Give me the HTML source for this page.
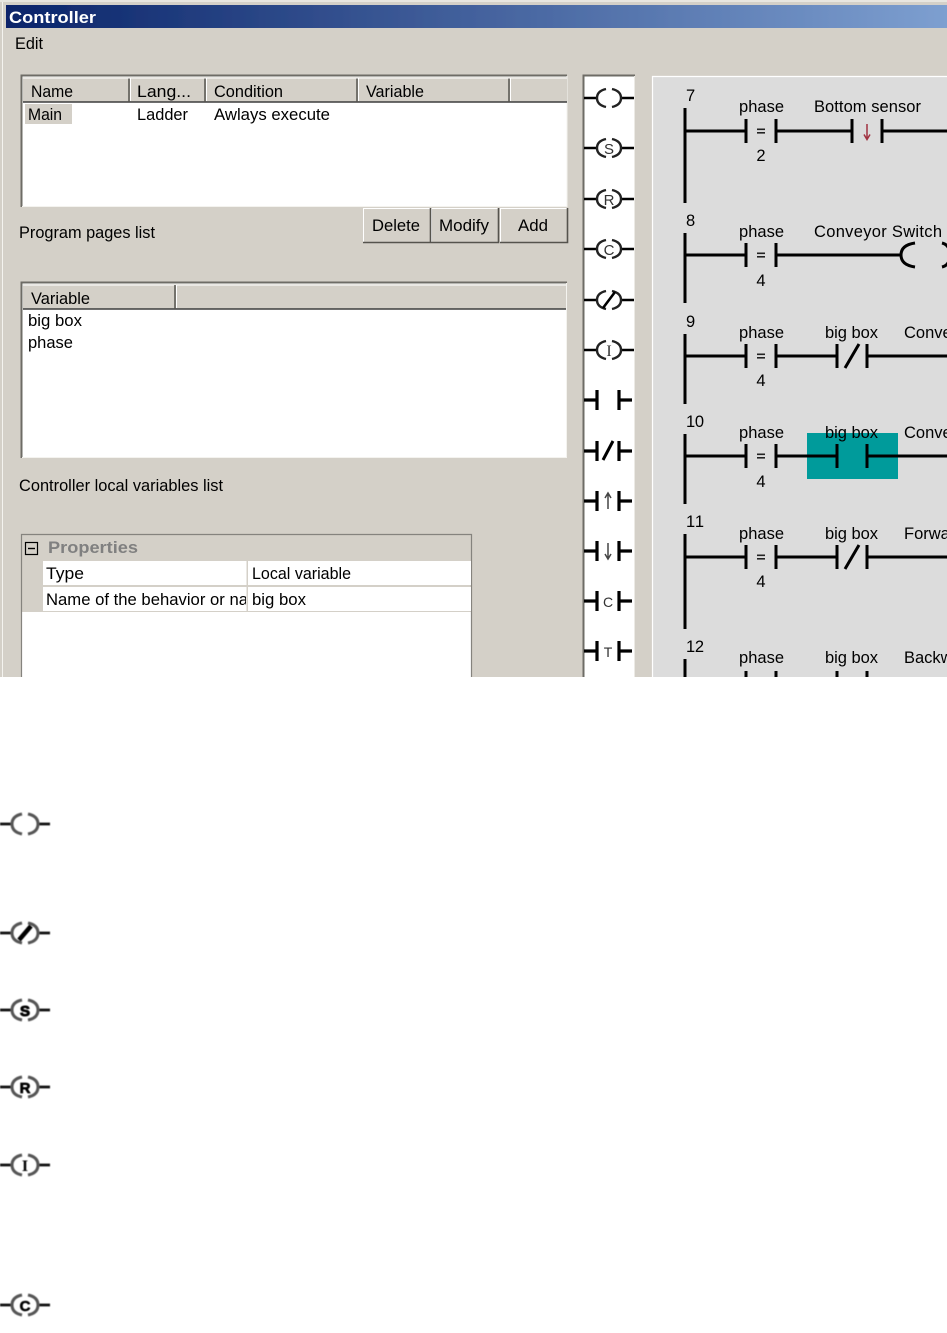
<!DOCTYPE html>
<html><head><meta charset="utf-8"><style>
html,body{margin:0;padding:0;background:#fff}
svg{display:block}
text{font-family:"Liberation Sans",sans-serif;font-size:16.5px;fill:#000}
.c{text-anchor:middle}
</style></head><body>
<svg width="947" height="1333" viewBox="0 0 947 1333" xmlns="http://www.w3.org/2000/svg">
<defs>
<linearGradient id="tb" x1="0" x2="1" y1="0" y2="0"><stop offset="0" stop-color="#0a246a"/><stop offset="1" stop-color="#7d9fd0"/></linearGradient>
<filter id="b" x="-2%" y="-2%" width="104%" height="104%"><feGaussianBlur stdDeviation="0.35"/></filter>
<filter id="b2" x="-10%" y="-10%" width="120%" height="120%"><feGaussianBlur stdDeviation="0.6"/></filter>
<g id="coil" fill="none" stroke="#000" stroke-width="2.6"><path d="M-25 0H-12M12 0H25"/><path d="M-3 -9Q-12 -7 -12 0Q-12 7 -3 9M3 -9Q12 -7 12 0Q12 7 3 9" stroke-width="2.4" stroke="#222"/></g>
<g id="coilb" fill="none" stroke="#111" stroke-width="2.8"><path d="M-25 0H-12M12 0H25"/><path d="M-3 -10Q-13 -8 -13 0Q-13 8 -3 10M3 -10Q13 -8 13 0Q13 8 3 10" stroke-width="3" stroke="#555"/></g>
<g id="cont" stroke="#000" stroke-width="3.2" fill="none"><path d="M-24 0H-11M-11 -10V10M11 -10V10M11 0H24"/></g>
<path id="bar" d="M0 -12V12" stroke="#000" stroke-width="3" fill="none"/>
<path id="sl" d="M-7 12L7 -12" stroke="#000" stroke-width="3" fill="none"/>
<clipPath id="namec"><rect x="43" y="586" width="203" height="26"/></clipPath>
</defs>
<g filter="url(#b)">
<rect width="947" height="677" fill="#d4d0c8"/>
<rect x="0" y="0" width="947" height="2" fill="#e8e6e0"/>
<rect x="2" y="2" width="1" height="675" fill="#f4f3ef"/>
<rect x="6" y="5" width="941" height="23" fill="url(#tb)"/>
<text x="9" y="23" textLength="87" lengthAdjust="spacingAndGlyphs" style="fill:#fff;font-weight:bold">Controller</text>
<text x="15" y="49" textLength="28" lengthAdjust="spacingAndGlyphs">Edit</text>

<!-- table 1 -->
<rect x="21" y="75" width="546" height="132" fill="#fff"/>
<path d="M21.5 207V75.5H567" fill="none" stroke="#6e6c66" stroke-width="2"/>
<path d="M22 206.500H567V76" fill="none" stroke="#f4f3ef"/>
<rect x="23" y="77" width="544" height="25" fill="#d4d0c8"/>
<path d="M23 102H567" stroke="#3c3c3c" stroke-width="1.6"/>
<path d="M129 78V102M205 78V102M357 78V102M509 78V102" stroke="#55534e" stroke-width="1.5"/>
<path d="M130.5 78V101M206.5 78V101M358.5 78V101M510.5 78V101" stroke="#fff" stroke-width="1"/>
<path d="M23 78H567" stroke="#fff" stroke-width="1"/>
<text x="31" y="97" textLength="42" lengthAdjust="spacingAndGlyphs">Name</text>
<text x="137" y="97" textLength="54" lengthAdjust="spacingAndGlyphs">Lang...</text>
<text x="214" y="97" textLength="69" lengthAdjust="spacingAndGlyphs">Condition</text>
<text x="366" y="97" textLength="58" lengthAdjust="spacingAndGlyphs">Variable</text>
<rect x="25" y="104" width="47" height="20" fill="#d4d0c8"/>
<text x="28" y="120" textLength="34" lengthAdjust="spacingAndGlyphs">Main</text>
<text x="137" y="120" textLength="51" lengthAdjust="spacingAndGlyphs">Ladder</text>
<text x="214" y="120" textLength="116" lengthAdjust="spacingAndGlyphs">Awlays execute</text>

<!-- buttons -->
<g fill="#d4d0c8" stroke="none">
<rect x="363" y="208" width="67" height="35"/><rect x="431" y="208" width="68" height="35"/><rect x="500" y="208" width="68" height="35"/>
</g>
<path d="M363.5 242V208.5H430M431.5 242V208.5H498M500.5 242V208.5H567" fill="none" stroke="#fff"/>
<path d="M363 242.500H430.500V208M431 242.500H498.500V208M500 242.500H567.500V208" fill="none" stroke="#55534e" stroke-width="1.6"/>
<text x="372" y="231" textLength="48" lengthAdjust="spacingAndGlyphs">Delete</text>
<text x="439" y="231" textLength="50" lengthAdjust="spacingAndGlyphs">Modify</text>
<text x="518" y="231" textLength="30" lengthAdjust="spacingAndGlyphs">Add</text>
<text x="19" y="238" textLength="136" lengthAdjust="spacingAndGlyphs">Program pages list</text>

<!-- table 2 -->
<rect x="21" y="282" width="546" height="176" fill="#fff"/>
<path d="M21.500 458V282.500H567" fill="none" stroke="#6e6c66" stroke-width="2"/>
<path d="M22 457.500H566.500V283" fill="none" stroke="#f4f3ef"/>
<rect x="23" y="284" width="543" height="25" fill="#d4d0c8"/>
<path d="M23 285H566" stroke="#fff"/>
<path d="M23 309H566" stroke="#3c3c3c" stroke-width="1.6"/>
<path d="M175 285V309" stroke="#55534e" stroke-width="1.5"/>
<path d="M176.500 285V308" stroke="#fff"/>
<text x="31" y="304" textLength="59" lengthAdjust="spacingAndGlyphs">Variable</text>
<text x="28" y="326" textLength="54" lengthAdjust="spacingAndGlyphs">big box</text>
<text x="28" y="348" textLength="45" lengthAdjust="spacingAndGlyphs">phase</text>
<text x="19" y="491" textLength="204" lengthAdjust="spacingAndGlyphs">Controller local variables list</text>

<!-- properties -->
<rect x="21" y="534" width="451" height="143" fill="#fff"/>
<rect x="22" y="535" width="449" height="77" fill="#d4d0c8"/>
<path d="M21.500 677V534.500H471.500V677" fill="none" stroke="#85837e" stroke-width="1.2"/>
<rect x="25.500" y="542.500" width="12" height="12" fill="none" stroke="#000" stroke-width="1.2"/>
<path d="M28 548.500H35" stroke="#000" stroke-width="1.4"/>
<text x="48" y="553" textLength="90" lengthAdjust="spacingAndGlyphs" style="fill:#808080;font-weight:bold">Properties</text>
<rect x="43" y="561" width="428" height="24" fill="#fff"/>
<rect x="43" y="587" width="428" height="24" fill="#fff"/>
<rect x="246.500" y="561" width="1.500" height="51" fill="#d4d0c8"/>
<text x="46" y="579" textLength="38" lengthAdjust="spacingAndGlyphs">Type</text>
<text x="252" y="579" textLength="99" lengthAdjust="spacingAndGlyphs">Local variable</text>
<g clip-path="url(#namec)"><text x="46" y="605" textLength="202" lengthAdjust="spacingAndGlyphs">Name of the behavior or na</text></g>
<text x="252" y="605" textLength="54" lengthAdjust="spacingAndGlyphs">big box</text>

<!-- toolbar -->
<rect x="583" y="75" width="52" height="602" fill="#fff"/>
<path d="M583.500 677V75.500H635" fill="none" stroke="#6e6c66" stroke-width="2"/>
<path d="M634.500 76V677" stroke="#eceae5"/>
<use href="#coil" x="609" y="98"/>
<use href="#coil" x="609" y="148"/><text class="c" x="609" y="154" style="font-size:15px;fill:#333">S</text>
<use href="#coil" x="609" y="199"/><text class="c" x="609" y="205" style="font-size:15px;fill:#333">R</text>
<use href="#coil" x="609" y="249"/><text class="c" x="609" y="255" style="font-size:15px;fill:#333">C</text>
<use href="#coil" x="609" y="300"/><path d="M603 308L615 292" stroke="#000" stroke-width="2.6"/>
<use href="#coil" x="609" y="350"/><text class="c" x="609" y="356" style="font-size:16px;fill:#333;font-family:'Liberation Serif',serif">I</text>
<use href="#cont" x="608" y="400"/>
<use href="#cont" x="608" y="451"/><path d="M603 460L613 441" stroke="#000" stroke-width="3"/>
<use href="#cont" x="608" y="501"/><path d="M608 509V494M605 498L608 493L611 498" fill="none" stroke="#444" stroke-width="1.500"/>
<use href="#cont" x="608" y="551"/><path d="M608 543V558M605 554L608 559L611 554" fill="none" stroke="#444" stroke-width="1.500"/>
<use href="#cont" x="608" y="601"/><text class="c" x="608" y="607" style="font-size:14px;fill:#333">C</text>
<use href="#cont" x="608" y="651"/><text class="c" x="608" y="657" style="font-size:14px;fill:#333">T</text>

<!-- diagram -->
<rect x="652" y="76" width="295" height="601" fill="#dcdcdc"/>
<path d="M652.500 677V76.500H947" fill="none" stroke="#fff" stroke-width="1.200"/>

<path d="M685 108V203M685 233V303M685 334V404M685 434V504M685 534V629M685 659V677" stroke="#000" stroke-width="3" fill="none"/>
<text x="686" y="101">7</text><text x="686" y="226">8</text><text x="686" y="327">9</text><text x="686" y="427" textLength="18">10</text><text x="686" y="527" textLength="18">11</text><text x="686" y="652" textLength="18">12</text>

<rect x="807" y="433" width="91" height="46" fill="#009b9b"/>

<g fill="none" stroke="#000" stroke-width="3">
<path d="M685 131H746M776 131H852M882 131H947"/>
<path d="M685 255H746M776 255H901"/>
<path d="M685 356H746M776 356H837M867 356H947"/>
<path d="M685 456H746M776 456H837M867 456H947"/>
<path d="M685 557H746M776 557H837M867 557H947"/>
</g>
<g>
<use href="#bar" x="746" y="131"/><use href="#bar" x="776" y="131"/><use href="#bar" x="852" y="131"/><use href="#bar" x="882" y="131"/>
<use href="#bar" x="746" y="255"/><use href="#bar" x="776" y="255"/>
<use href="#bar" x="746" y="356"/><use href="#bar" x="776" y="356"/><use href="#bar" x="837" y="356"/><use href="#bar" x="867" y="356"/><use href="#sl" x="852" y="356"/>
<use href="#bar" x="746" y="456"/><use href="#bar" x="776" y="456"/><use href="#bar" x="837" y="456"/><use href="#bar" x="867" y="456"/>
<use href="#bar" x="746" y="557"/><use href="#bar" x="776" y="557"/><use href="#bar" x="837" y="557"/><use href="#bar" x="867" y="557"/><use href="#sl" x="852" y="557"/>
<path d="M746 671V677M776 671V677M837 671V677M867 671V677" stroke="#000" stroke-width="3"/>
</g>
<path d="M915 243Q901 245 901 255Q901 265 915 267" fill="none" stroke="#000" stroke-width="3"/>
<path d="M942 243Q950 245 950 255Q950 265 942 267" fill="none" stroke="#000" stroke-width="3"/>

<g fill="#222">
<rect x="757" y="128.500" width="8" height="1.600"/><rect x="757" y="132" width="8" height="1.600"/>
<rect x="757" y="252.500" width="8" height="1.600"/><rect x="757" y="256" width="8" height="1.600"/>
<rect x="757" y="353.500" width="8" height="1.600"/><rect x="757" y="357" width="8" height="1.600"/>
<rect x="757" y="453.500" width="8" height="1.600"/><rect x="757" y="457" width="8" height="1.600"/>
<rect x="757" y="554.500" width="8" height="1.600"/><rect x="757" y="558" width="8" height="1.600"/>
</g>
<path d="M867 124V139M864 134.500L867 139.500L870 134.500" fill="none" stroke="#a03040" stroke-width="1.500"/>

<g>
<text x="739" y="112" textLength="45">phase</text><text x="739" y="237" textLength="45">phase</text><text x="739" y="338" textLength="45">phase</text><text x="739" y="438" textLength="45">phase</text><text x="739" y="539" textLength="45">phase</text><text x="739" y="663" textLength="45">phase</text>
<text x="814" y="112" textLength="107">Bottom sensor</text>
<text x="814" y="237" textLength="128">Conveyor Switch</text>
<text x="825" y="338" textLength="53">big box</text><text x="825" y="438" textLength="53">big box</text><text x="825" y="539" textLength="53">big box</text><text x="825" y="663" textLength="53">big box</text>
<text x="904" y="338">Conveyor</text><text x="904" y="438">Conveyor</text><text x="904" y="539">Forward</text><text x="904" y="663">Backward</text>
<text class="c" x="761" y="161">2</text><text class="c" x="761" y="286">4</text><text class="c" x="761" y="386">4</text><text class="c" x="761" y="487">4</text><text class="c" x="761" y="587">4</text>
</g>
</g>

<!-- bottom icons -->
<g filter="url(#b2)">
<use href="#coilb" x="25" y="824"/>
<use href="#coilb" x="25" y="933"/><path d="M19 940L31 926" stroke="#000" stroke-width="4.500"/>
<use href="#coilb" x="25" y="1010"/><text class="c" x="25" y="1016" style="font-size:15px;font-weight:bold;fill:#000;stroke:#000;stroke-width:1">S</text>
<use href="#coilb" x="25" y="1087"/><text class="c" x="25" y="1093" style="font-size:15px;font-weight:bold;fill:#000;stroke:#000;stroke-width:.7">R</text>
<use href="#coilb" x="25" y="1165"/><text class="c" x="25" y="1171" style="font-size:16px;font-weight:bold;fill:#000;font-family:'Liberation Serif',serif">I</text>
<use href="#coilb" x="25" y="1305"/><text class="c" x="25" y="1311" style="font-size:15px;font-weight:bold;fill:#000;stroke:#000;stroke-width:.6">C</text>
</g>
</svg>
</body></html>
